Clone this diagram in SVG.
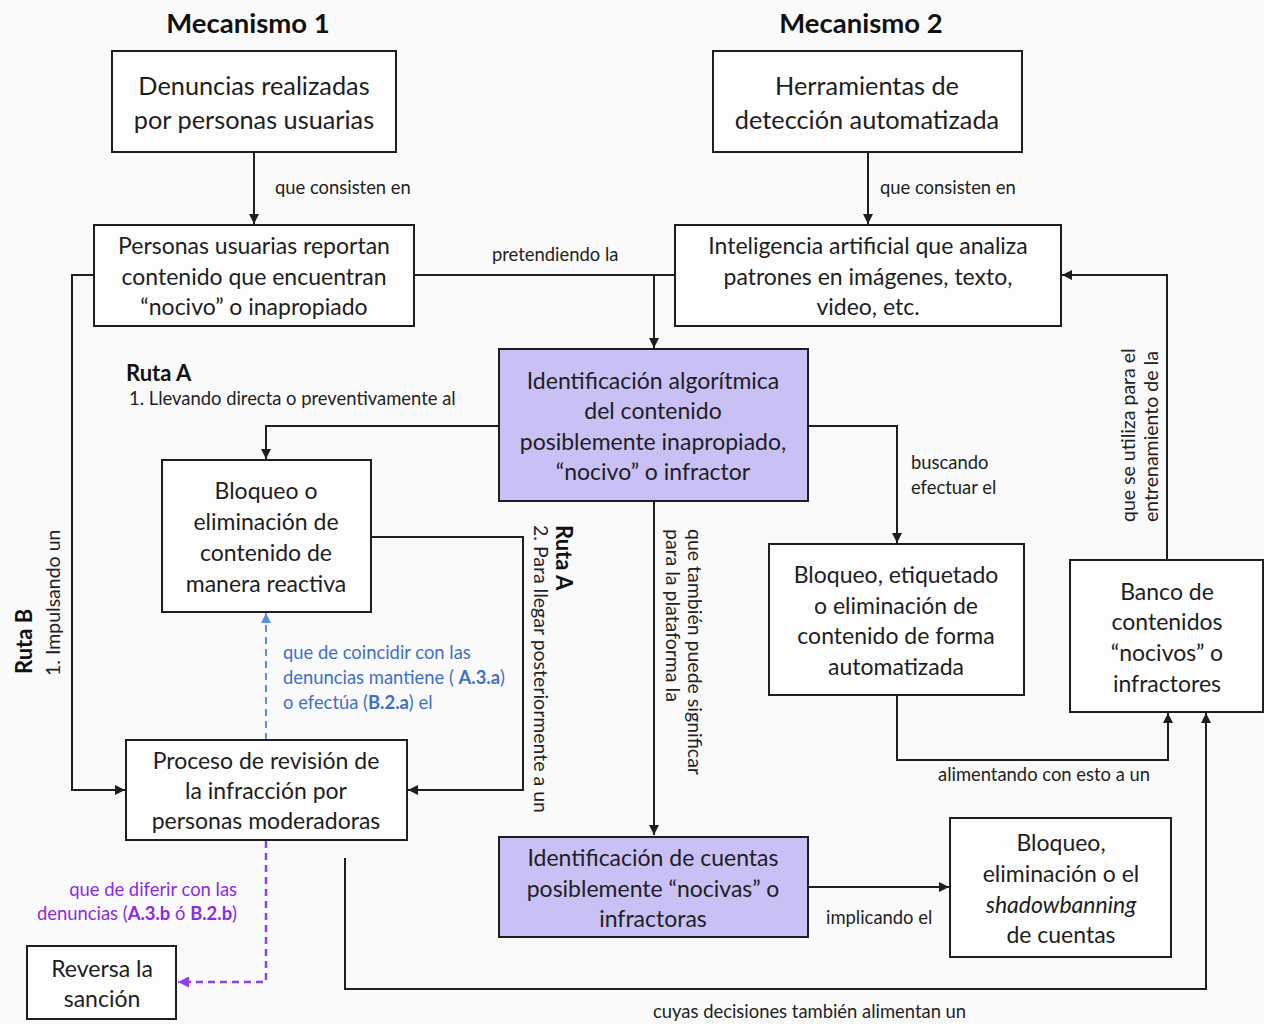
<svg xmlns="http://www.w3.org/2000/svg" width="1264" height="1024" viewBox="0 0 1264 1024">
<style>
.bg{fill:#fafafb}
.box{fill:#fdfdfd;stroke:#1e1e1e;stroke-width:2}
.pbox{fill:#c9c0f6;stroke:#1e1e1e;stroke-width:2}
.nt{font-family:Lato,"Liberation Sans",sans-serif;font-size:23px;fill:#1e1e1e;text-anchor:middle}
.nt2{font-family:Lato,"Liberation Sans",sans-serif;font-size:25.3px;fill:#1e1e1e;text-anchor:middle}
.hd{font-family:Lato,"Liberation Sans",sans-serif;font-size:27.5px;font-weight:bold;fill:#111;text-anchor:middle}
.lb{font-family:Lato,"Liberation Sans",sans-serif;font-size:18.4px;fill:#222}
.vl{font-family:Lato,"Liberation Sans",sans-serif;font-size:19.5px;fill:#222}
.rb{font-family:Lato,"Liberation Sans",sans-serif;font-size:22px;font-weight:bold;fill:#111}
.blue{fill:#3f6fc7}
.purp{fill:#8a2be2}
.ln{fill:none;stroke:#1e1e1e;stroke-width:2}
.dblue{fill:none;stroke:#5b8fd9;stroke-width:2;stroke-dasharray:7,5}
.dpurp{fill:none;stroke:#8f3fe6;stroke-width:2.5;stroke-dasharray:7,5}
</style>
<defs>
<marker id="ah" viewBox="0 0 10 10" refX="10" refY="5" markerWidth="10" markerHeight="10" markerUnits="userSpaceOnUse" orient="auto"><path d="M0,0 L10,5 L0,10 z" fill="#1e1e1e"/></marker>
<marker id="ahb" viewBox="0 0 10 10" refX="10" refY="5" markerWidth="10" markerHeight="10" markerUnits="userSpaceOnUse" orient="auto"><path d="M0,0 L10,5 L0,10 z" fill="#5b8fd9"/></marker>
<marker id="ahp" viewBox="0 0 10 10" refX="10" refY="5" markerWidth="11" markerHeight="11" markerUnits="userSpaceOnUse" orient="auto"><path d="M0,0 L10,5 L0,10 z" fill="#8f3fe6"/></marker>
</defs>
<rect class="bg" x="0" y="0" width="1264" height="1024"/>

<g id="headers">
<text class="hd" x="248" y="33">Mecanismo 1</text>
<text class="hd" x="861" y="33">Mecanismo 2</text>
</g>

<g id="connectors">
<path class="ln" d="M254,152 V224" marker-end="url(#ah)"/>
<path class="ln" d="M868,152 V224" marker-end="url(#ah)"/>
<path class="ln" d="M414,275 H675"/>
<path class="ln" d="M654,275 V348" marker-end="url(#ah)"/>
<path class="ln" d="M499,426 H266 V459" marker-end="url(#ah)"/>
<path class="ln" d="M808,426 H897 V543" marker-end="url(#ah)"/>
<path class="ln" d="M371,537 H523 V790 H408" marker-end="url(#ah)"/>
<path class="ln" d="M654,501 V835" marker-end="url(#ah)"/>
<path class="ln" d="M94,275 H72 V790 H125" marker-end="url(#ah)"/>
<path class="dblue" d="M266,740 V613" marker-end="url(#ahb)"/>
<path class="dpurp" d="M266,841 V982 H178" marker-end="url(#ahp)"/>
<path class="ln" d="M897,695 V760 H1168 V713" marker-end="url(#ah)"/>
<path class="ln" d="M1167,560 V275 H1062" marker-end="url(#ah)"/>
<path class="ln" d="M345,858 V989 H1206 V713" marker-end="url(#ah)"/>
<path class="ln" d="M808,887 H949" marker-end="url(#ah)"/>
</g>

<g id="labels">
<text class="lb" x="275" y="194">que consisten en</text>
<text class="lb" x="880" y="194">que consisten en</text>
<text class="lb" x="492" y="261">pretendiendo la</text>
<text class="rb" x="126" y="381">Ruta A</text>
<text class="lb" x="129" y="405">1. Llevando directa o preventivamente al</text>
<text class="lb" x="911" y="469">buscando</text>
<text class="lb" x="911" y="494">efectuar el</text>
<text class="lb" x="938" y="781">alimentando con esto a un</text>
<text class="lb" x="826" y="924">implicando el</text>
<text class="lb" x="653" y="1018">cuyas decisiones también alimentan un</text>
<text class="lb blue" x="283" y="659">que de coincidir con las</text>
<text class="lb blue" x="283" y="684">denuncias mantiene ( <tspan font-weight="bold">A.3.a</tspan>)</text>
<text class="lb blue" x="283" y="709">o efectúa (<tspan font-weight="bold">B.2.a</tspan>)  el</text>
<text class="lb purp" x="237" y="896" text-anchor="end">que de diferir con las</text>
<text class="lb purp" x="237" y="920" text-anchor="end">denuncias (<tspan font-weight="bold">A.3.b</tspan> ó <tspan font-weight="bold">B.2.b</tspan>)</text>
<text class="rb" transform="translate(556,525) rotate(90)">Ruta A</text>
<text class="vl" transform="translate(534,525) rotate(90)">2. Para llegar posteriormente a un</text>
<text class="vl" transform="translate(688,529) rotate(90)">que  también puede significar</text>
<text class="vl" transform="translate(666,529) rotate(90)">para la plataforma la</text>
<text class="rb" transform="translate(32,674) rotate(-90)">Ruta B</text>
<text class="vl" transform="translate(60,676) rotate(-90)">1. Impulsando un</text>
<text class="vl" transform="translate(1135,522) rotate(-90)">que se utiliza para el</text>
<text class="vl" transform="translate(1158,522) rotate(-90)">entrenamiento de la</text>
</g>

<g id="n-denuncias">
<rect class="box" x="112" y="51" width="284" height="101"/>
<text class="nt2" x="254" y="95">Denuncias realizadas</text>
<text class="nt2" x="254" y="129">por personas usuarias</text>
</g>
<g id="n-herramientas">
<rect class="box" x="713" y="51" width="309" height="101"/>
<text class="nt2" x="867" y="95">Herramientas de</text>
<text class="nt2" x="867" y="129">detección automatizada</text>
</g>
<g id="n-personas">
<rect class="box" x="94" y="225" width="320" height="101"/>
<text class="nt" x="254" y="254">Personas usuarias reportan</text>
<text class="nt" x="254" y="285">contenido que encuentran</text>
<text class="nt" x="254" y="315">“nocivo” o inapropiado</text>
</g>
<g id="n-ia">
<rect class="box" x="675" y="225" width="386" height="101"/>
<text class="nt" x="868" y="254">Inteligencia artificial  que analiza</text>
<text class="nt" x="868" y="285">patrones en imágenes, texto,</text>
<text class="nt" x="868" y="315">video, etc.</text>
</g>
<g id="n-identificacion">
<rect class="pbox" x="499" y="349" width="309" height="152"/>
<text class="nt" x="653" y="389">Identificación algorítmica</text>
<text class="nt" x="653" y="419">del contenido</text>
<text class="nt" x="653" y="450">posiblemente inapropiado,</text>
<text class="nt" x="653" y="480">“nocivo” o infractor</text>
</g>
<g id="n-bloqueo-reactivo">
<rect class="box" x="162" y="460" width="209" height="152"/>
<text class="nt" x="266" y="499">Bloqueo o</text>
<text class="nt" x="266" y="530">eliminación de</text>
<text class="nt" x="266" y="561">contenido de</text>
<text class="nt" x="266" y="592">manera reactiva</text>
</g>
<g id="n-bloqueo-auto">
<rect class="box" x="769" y="544" width="255" height="151"/>
<text class="nt" x="896" y="583">Bloqueo, etiquetado</text>
<text class="nt" x="896" y="614">o eliminación de</text>
<text class="nt" x="896" y="644">contenido de forma</text>
<text class="nt" x="896" y="675">automatizada</text>
</g>
<g id="n-banco">
<rect class="box" x="1070" y="560" width="193" height="152"/>
<text class="nt" x="1167" y="600">Banco de</text>
<text class="nt" x="1167" y="630">contenidos</text>
<text class="nt" x="1167" y="661">“nocivos” o</text>
<text class="nt" x="1167" y="692">infractores</text>
</g>
<g id="n-proceso">
<rect class="box" x="126" y="740" width="281" height="100"/>
<text class="nt" x="266" y="769">Proceso de revisión de</text>
<text class="nt" x="266" y="799">la infracción por</text>
<text class="nt" x="266" y="829">personas moderadoras</text>
</g>
<g id="n-reversa">
<rect class="box" x="27" y="946" width="149" height="73"/>
<text class="nt" x="102" y="977">Reversa la</text>
<text class="nt" x="102" y="1007">sanción</text>
</g>
<g id="n-cuentas">
<rect class="pbox" x="499" y="837" width="309" height="100"/>
<text class="nt" x="653" y="866">Identificación de cuentas</text>
<text class="nt" x="653" y="897">posiblemente “nocivas” o</text>
<text class="nt" x="653" y="927">infractoras</text>
</g>
<g id="n-shadow">
<rect class="box" x="950" y="818" width="221" height="139"/>
<text class="nt" x="1061" y="851">Bloqueo,</text>
<text class="nt" x="1061" y="882">eliminación o el</text>
<text class="nt" x="1061" y="913" font-style="italic">shadowbanning</text>
<text class="nt" x="1061" y="943">de cuentas</text>
</g>
</svg>
